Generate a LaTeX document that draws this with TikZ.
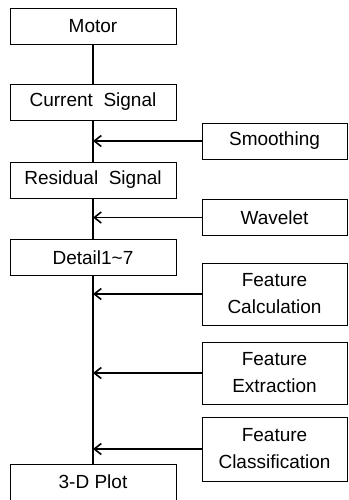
\documentclass[tikz,border=0pt]{standalone}
\usepackage{fontspec}
\setmainfont{Liberation Sans}
\usepackage{tikz}
\usetikzlibrary{arrows.meta,positioning}

\begin{document}
\begin{tikzpicture}[
    x=1pt, y=-1pt,
    stage/.style={draw, line width=0.9pt, minimum width=166pt,
                  minimum height=36pt, inner sep=0pt, align=center,
                  font=\fontsize{19}{27}\selectfont},
    task/.style={draw, line width=0.9pt, text width=145pt,
                 minimum height=36pt, inner sep=0pt, align=center,
                 font=\fontsize{19}{27}\selectfont},
    flow/.style={line width=1.6pt},
    every edge/.style={draw, line width=1.6pt,
                       -{Straight Barb[length=7pt,width=11pt]}}
  ]
  \useasboundingbox (0,0) rectangle (348,500);
  \clip (0,0) rectangle (348,500);

  % main chain on the left
  \node[stage] (MOTOR)    at (93, 26.5)  {Motor};
  \node[stage] (CURRENT)  at (93, 102)   {Current\ \ Signal};
  \node[stage] (RESIDUAL) at (93, 180)   {Residual\ \ Signal};
  \node[stage] (DETAIL)   at (93, 257.5) {Detail1\textasciitilde7};
  \node[stage] (PLOT)     at (93, 482)   {3-D Plot};

  % processing steps on the right
  \node[task] (SMOOTH)   at (274.5, 141)   {Smoothing};
  \node[task] (WAVELET)  at (274.5, 217.5) {Wavelet};
  \node[task, minimum height=62pt] (CALC)    at (274.5, 294) {Feature\\Calculation};
  \node[task, minimum height=62pt] (EXTRACT) at (274.5, 373) {Feature\\Extraction};
  \node[task, minimum height=64pt] (CLASS)   at (274.5, 449) {Feature\\Classification};

  \draw[flow] (MOTOR) -- (CURRENT);
  \draw[flow] (CURRENT) -- (RESIDUAL);
  \draw[flow] (RESIDUAL) -- (DETAIL);
  \draw[flow] (DETAIL) -- (PLOT);

  \draw (SMOOTH.west)  edge (SMOOTH.west -| CURRENT.south);
  \draw (WAVELET.west) edge (WAVELET.west -| CURRENT.south);
  \draw (CALC.west)    edge (CALC.west -| CURRENT.south);
  \draw (EXTRACT.west) edge (EXTRACT.west -| CURRENT.south);
  \draw (CLASS.west)   edge (CLASS.west -| CURRENT.south);
\end{tikzpicture}
\end{document}
